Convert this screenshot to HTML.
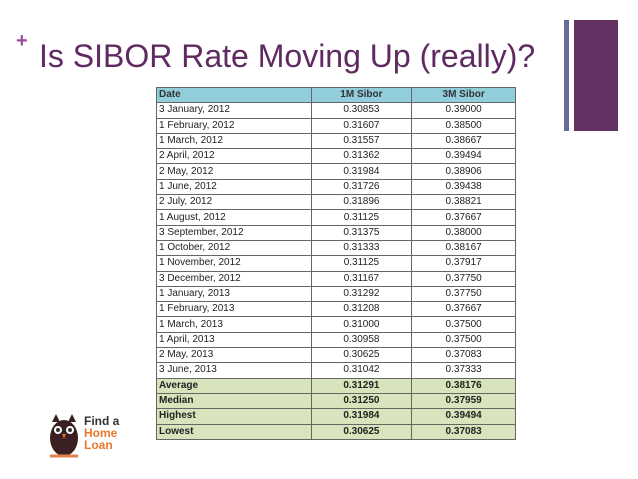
<!DOCTYPE html>
<html><head><meta charset="utf-8"><style>
body{margin:0;width:638px;height:479px;background:#fff;position:relative;overflow:hidden;font-family:"Liberation Sans",sans-serif}
.abs{position:absolute}
table{position:absolute;left:156px;top:87px;width:360px;border-collapse:collapse;font-size:10px;color:#222;border:1.5px solid #111}
td{height:14.3px;padding:0 2px;border:1px solid #666;line-height:14px}
td:nth-child(2),td:nth-child(3){text-align:center}
tr.h td{background:#92cddc;font-weight:bold;color:#333}
tr.s td{background:#d8e4bc;font-weight:bold}
</style></head><body>
<div class="abs" style="left:16px;top:30px;color:#9b4d9b;font-size:20px;font-weight:bold">+</div>
<div class="abs" style="left:39px;top:38px;color:#5f2a62;font-size:32px;white-space:nowrap">Is SIBOR Rate Moving Up (really)?</div>
<div class="abs" style="left:564px;top:20px;width:5px;height:111px;background:#6a6a9a"></div>
<div class="abs" style="left:574px;top:20px;width:44px;height:111px;background:#633262"></div>
<table>
<colgroup><col style="width:155px"><col style="width:101px"><col style="width:104px"></colgroup>
<tr class="h"><td>Date</td><td>1M Sibor</td><td>3M Sibor</td></tr>
<tr><td>3 January, 2012</td><td>0.30853</td><td>0.39000</td></tr>
<tr><td>1 February, 2012</td><td>0.31607</td><td>0.38500</td></tr>
<tr><td>1 March, 2012</td><td>0.31557</td><td>0.38667</td></tr>
<tr><td>2 April, 2012</td><td>0.31362</td><td>0.39494</td></tr>
<tr><td>2 May, 2012</td><td>0.31984</td><td>0.38906</td></tr>
<tr><td>1 June, 2012</td><td>0.31726</td><td>0.39438</td></tr>
<tr><td>2 July, 2012</td><td>0.31896</td><td>0.38821</td></tr>
<tr><td>1 August, 2012</td><td>0.31125</td><td>0.37667</td></tr>
<tr><td>3 September, 2012</td><td>0.31375</td><td>0.38000</td></tr>
<tr><td>1 October, 2012</td><td>0.31333</td><td>0.38167</td></tr>
<tr><td>1 November, 2012</td><td>0.31125</td><td>0.37917</td></tr>
<tr><td>3 December, 2012</td><td>0.31167</td><td>0.37750</td></tr>
<tr><td>1 January, 2013</td><td>0.31292</td><td>0.37750</td></tr>
<tr><td>1 February, 2013</td><td>0.31208</td><td>0.37667</td></tr>
<tr><td>1 March, 2013</td><td>0.31000</td><td>0.37500</td></tr>
<tr><td>1 April, 2013</td><td>0.30958</td><td>0.37500</td></tr>
<tr><td>2 May, 2013</td><td>0.30625</td><td>0.37083</td></tr>
<tr><td>3 June, 2013</td><td>0.31042</td><td>0.37333</td></tr>
<tr class="s"><td>Average</td><td>0.31291</td><td>0.38176</td></tr>
<tr class="s"><td>Median</td><td>0.31250</td><td>0.37959</td></tr>
<tr class="s"><td>Highest</td><td>0.31984</td><td>0.39494</td></tr>
<tr class="s"><td>Lowest</td><td>0.30625</td><td>0.37083</td></tr>
</table>
<svg class="abs" style="left:44px;top:412px" width="40" height="52">
<ellipse cx="20" cy="26" rx="14" ry="18" fill="#3a2020"/>
<polygon points="8,10 12,2 16,10" fill="#3a2020"/><polygon points="24,10 28,2 32,10" fill="#3a2020"/>
<circle cx="14" cy="18" r="4" fill="#fff"/><circle cx="26" cy="18" r="4" fill="#fff"/>
<circle cx="14" cy="18" r="2" fill="#333"/><circle cx="26" cy="18" r="2" fill="#333"/>
<polygon points="18,22 22,22 20,27" fill="#e06a2a"/>
<path d="M6 44 h28" stroke="#e0824a" stroke-width="3"/>
</svg>
<div class="abs" style="left:84px;top:415px;font-size:12px;line-height:12px;font-weight:bold"><span style="color:#333">Find a</span><br><span style="color:#e8782e">Home</span><br><span style="color:#e8782e">Loan</span></div>
</body></html>
